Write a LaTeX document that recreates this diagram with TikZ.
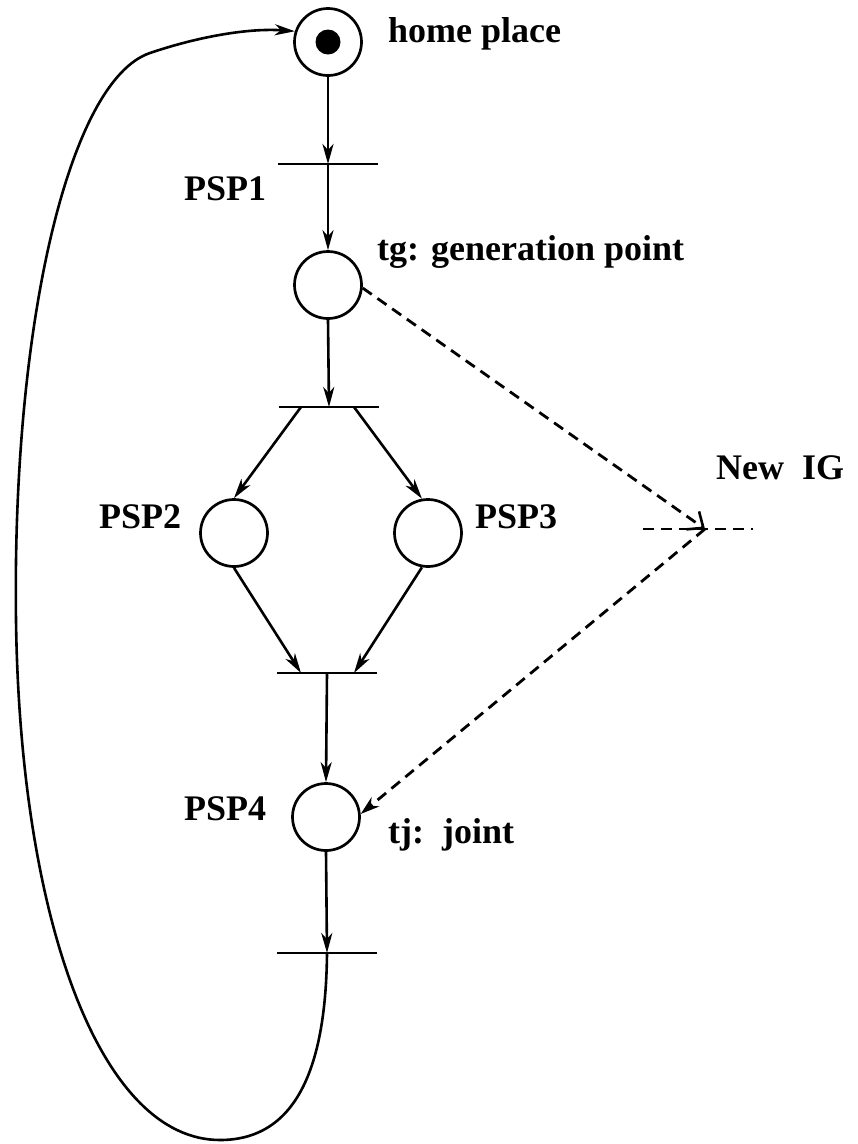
\documentclass[tikz,border=0pt]{standalone}
\usepackage{fontspec}
\setmainfont{Liberation Serif}
\usetikzlibrary{arrows.meta}
\begin{document}
\begin{tikzpicture}[x=1pt,y=-1pt,
  place/.style={draw,circle,line width=2.7pt,minimum size=67pt,inner sep=0pt},
  trans/.style={inner sep=0pt,minimum width=100pt,minimum height=0pt},
  bar/.style={line width=2.8pt},
  arc/.style={line width=2.6pt,-{Stealth[length=20pt,width=11pt,inset=6pt]}},
  dsh/.style={line width=2.8pt,dash pattern=on 11pt off 7pt},
  lbl/.style={anchor=base west,inner sep=0pt,font=\fontsize{36}{40}\selectfont\bfseries}]
\useasboundingbox (0,0) rectangle (858,1144);
% places
\node[place] (home) at (328,42) {};
\node[circle,fill=black,minimum size=25pt,inner sep=0pt] (tok) at (home.center) {};
\node[place] (tg) at (328,285) {};
\node[place] (p2) at (234,533) {};
\node[place] (p3) at (428,533) {};
\node[place] (p4) at (326,817) {};
% transitions
\node[trans] (t1) at (328,164) {};
\node[trans] (t2) at (329,407) {};
\node[trans] (t3) at (327,673) {};
\node[trans] (t4) at (327,953) {};
\foreach \t in {t1,t2,t3,t4} \draw[bar] (\t.west) -- (\t.east);
% labels
\node[lbl] (lhome) at (388,42) {home place};
\node[lbl] (lpsp1) at (184,200) {PSP1};
\node[lbl] (ltg) at (377,260) {tg: generation point};
\node[lbl] (lig) at (716,479) {New\ \ IG};
\node[lbl] (lpsp2) at (99,528) {PSP2};
\node[lbl] (lpsp3) at (475,528) {PSP3};
\node[lbl] (lpsp4) at (184,820) {PSP4};
\node[lbl] (ltj) at (388,843) {tj:\ \ joint};
% arcs
\draw[arc] (home.south) -- (t1.center);
\draw[arc] (t1.center) -- (tg.north);
\draw[arc] (tg.south) -- (t2.center);
\draw[arc] ([xshift=-28pt]t2.center) -- (p2.north);
\draw[arc] ([xshift=25pt]t2.center) -- (p3.100);
\draw[arc] (p2.south) -- ([xshift=-26pt]t3.center);
\draw[arc] (p3.260) -- ([xshift=27pt]t3.center);
\draw[arc] (t3.center) -- (p4.north);
\draw[arc] (p4.south) -- (t4.center);
% return arc
\draw[arc] (t4.center) .. controls (326,1060) and (300,1140) .. (220,1140)
  .. controls (100,1140) and (20,920) .. (16,620)
  .. controls (12,320) and (70,80) .. (150,53)
  .. controls (200,36) and (250,28) .. (home.162);
% dashed
\coordinate (ig) at (705,529);
\coordinate (igl) at (643,529);
\coordinate (igr) at (753,529);
\draw[dsh,-{Straight Barb[length=13pt,width=22pt,line width=2.6pt]}] (tg.-5) -- (ig);
\draw[dsh] (igl) -- (igr);
\draw[dsh,-{Stealth[length=19pt,width=12pt,inset=6pt]}] (ig) -- (p4.5);
\end{tikzpicture}
\end{document}
